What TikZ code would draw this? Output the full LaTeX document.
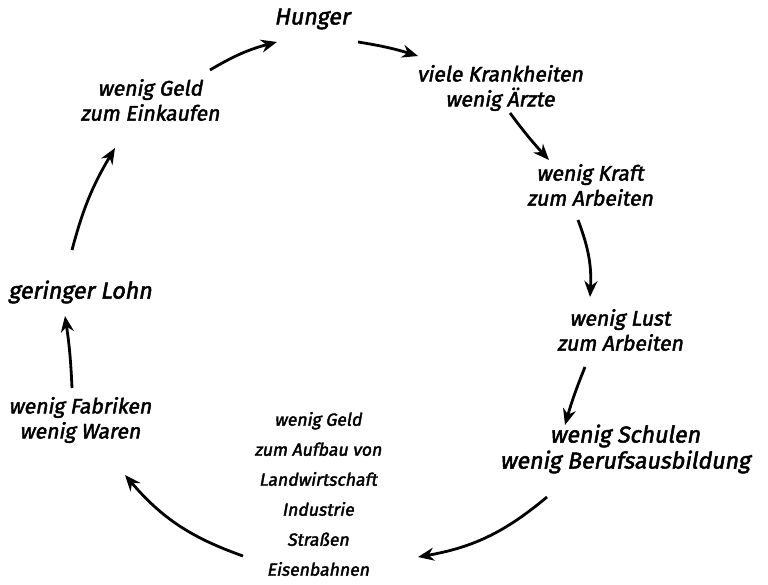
\documentclass[tikz,border=0pt]{standalone}
\usepackage{fontspec}
\setmainfont{Fira Sans}
\newfontfamily\hand[FakeBold=2.2,FakeSlant=0.18]{Fira Sans}
\usetikzlibrary{arrows.meta}
\tikzset{
  lbl/.style={align=center, inner sep=2pt, font=\fontsize{21}{25}\selectfont\hand},
  big/.style={align=center, inner sep=2pt, font=\fontsize{23}{25}\selectfont\hand},
  wide/.style={align=center, inner sep=2pt, font=\fontsize{23}{26}\selectfont\hand},
  small/.style={align=center, inner sep=2pt, font=\fontsize{17.5}{30}\selectfont\hand},
  arr/.style={-{Stealth[length=16pt,width=13pt]}, line width=2.8pt, black},
}
\begin{document}
\begin{tikzpicture}[x=1pt,y=-1pt]
\useasboundingbox (0,0) rectangle (768,585);
\node[big] (hunger) at (312,19) {Hunger};
\node[lbl] (viele) at (500,88) {viele Krankheiten\\wenig Ärzte};
\node[lbl] (kraft) at (590,185) {wenig Kraft\\zum Arbeiten};
\node[lbl] (lust) at (620,330) {wenig Lust\\zum Arbeiten};
\node[wide] (schulen) at (625,449) {wenig Schulen\\wenig Berufsausbildung};
\node[small] (geld) at (318,494) {wenig Geld\\zum Aufbau von\\Landwirtschaft\\Industrie\\Straßen\\Eisenbahnen};
\node[lbl] (fabrik) at (80,420) {wenig Fabriken\\wenig Waren};
\node[big] (lohn) at (80,292) {geringer Lohn};
\node[lbl] (einkauf) at (150,100) {wenig Geld\\zum Einkaufen};

\draw[arr] ([shift={(60,-30)}]einkauf.center) to[bend left=8] ([shift={(-35,23)}]hunger.center);
\draw[arr] ([shift={(46,23)}]hunger.center) to[bend left=4] ([shift={(-82,-32)}]viele.center);
\draw[arr] ([shift={(10,25)}]viele.center) to[bend right=3] ([shift={(-41,-25)}]kraft.center);
\draw[arr] ([shift={(-12,35)}]kraft.center) to[bend left=12] ([shift={(-30,-33)}]lust.center);
\draw[arr] ([shift={(-35,37)}]lust.center) to[bend right=3] ([shift={(-60,-24)}]schulen.center);
\draw[arr] ([shift={(-78,48)}]schulen.center) to[bend left=15] ([shift={(100,63)}]geld.center);
\draw[arr] ([shift={(-75,62)}]geld.center) to[bend left=15] ([shift={(45,55)}]fabrik.center);
\draw[arr] ([shift={(-8,-32)}]fabrik.center) to[bend right=3] ([shift={(-15,24)}]lohn.center);
\draw[arr] ([shift={(-8,-42)}]lohn.center) to[bend left=8] ([shift={(-35,48)}]einkauf.center);
\end{tikzpicture}
\end{document}
